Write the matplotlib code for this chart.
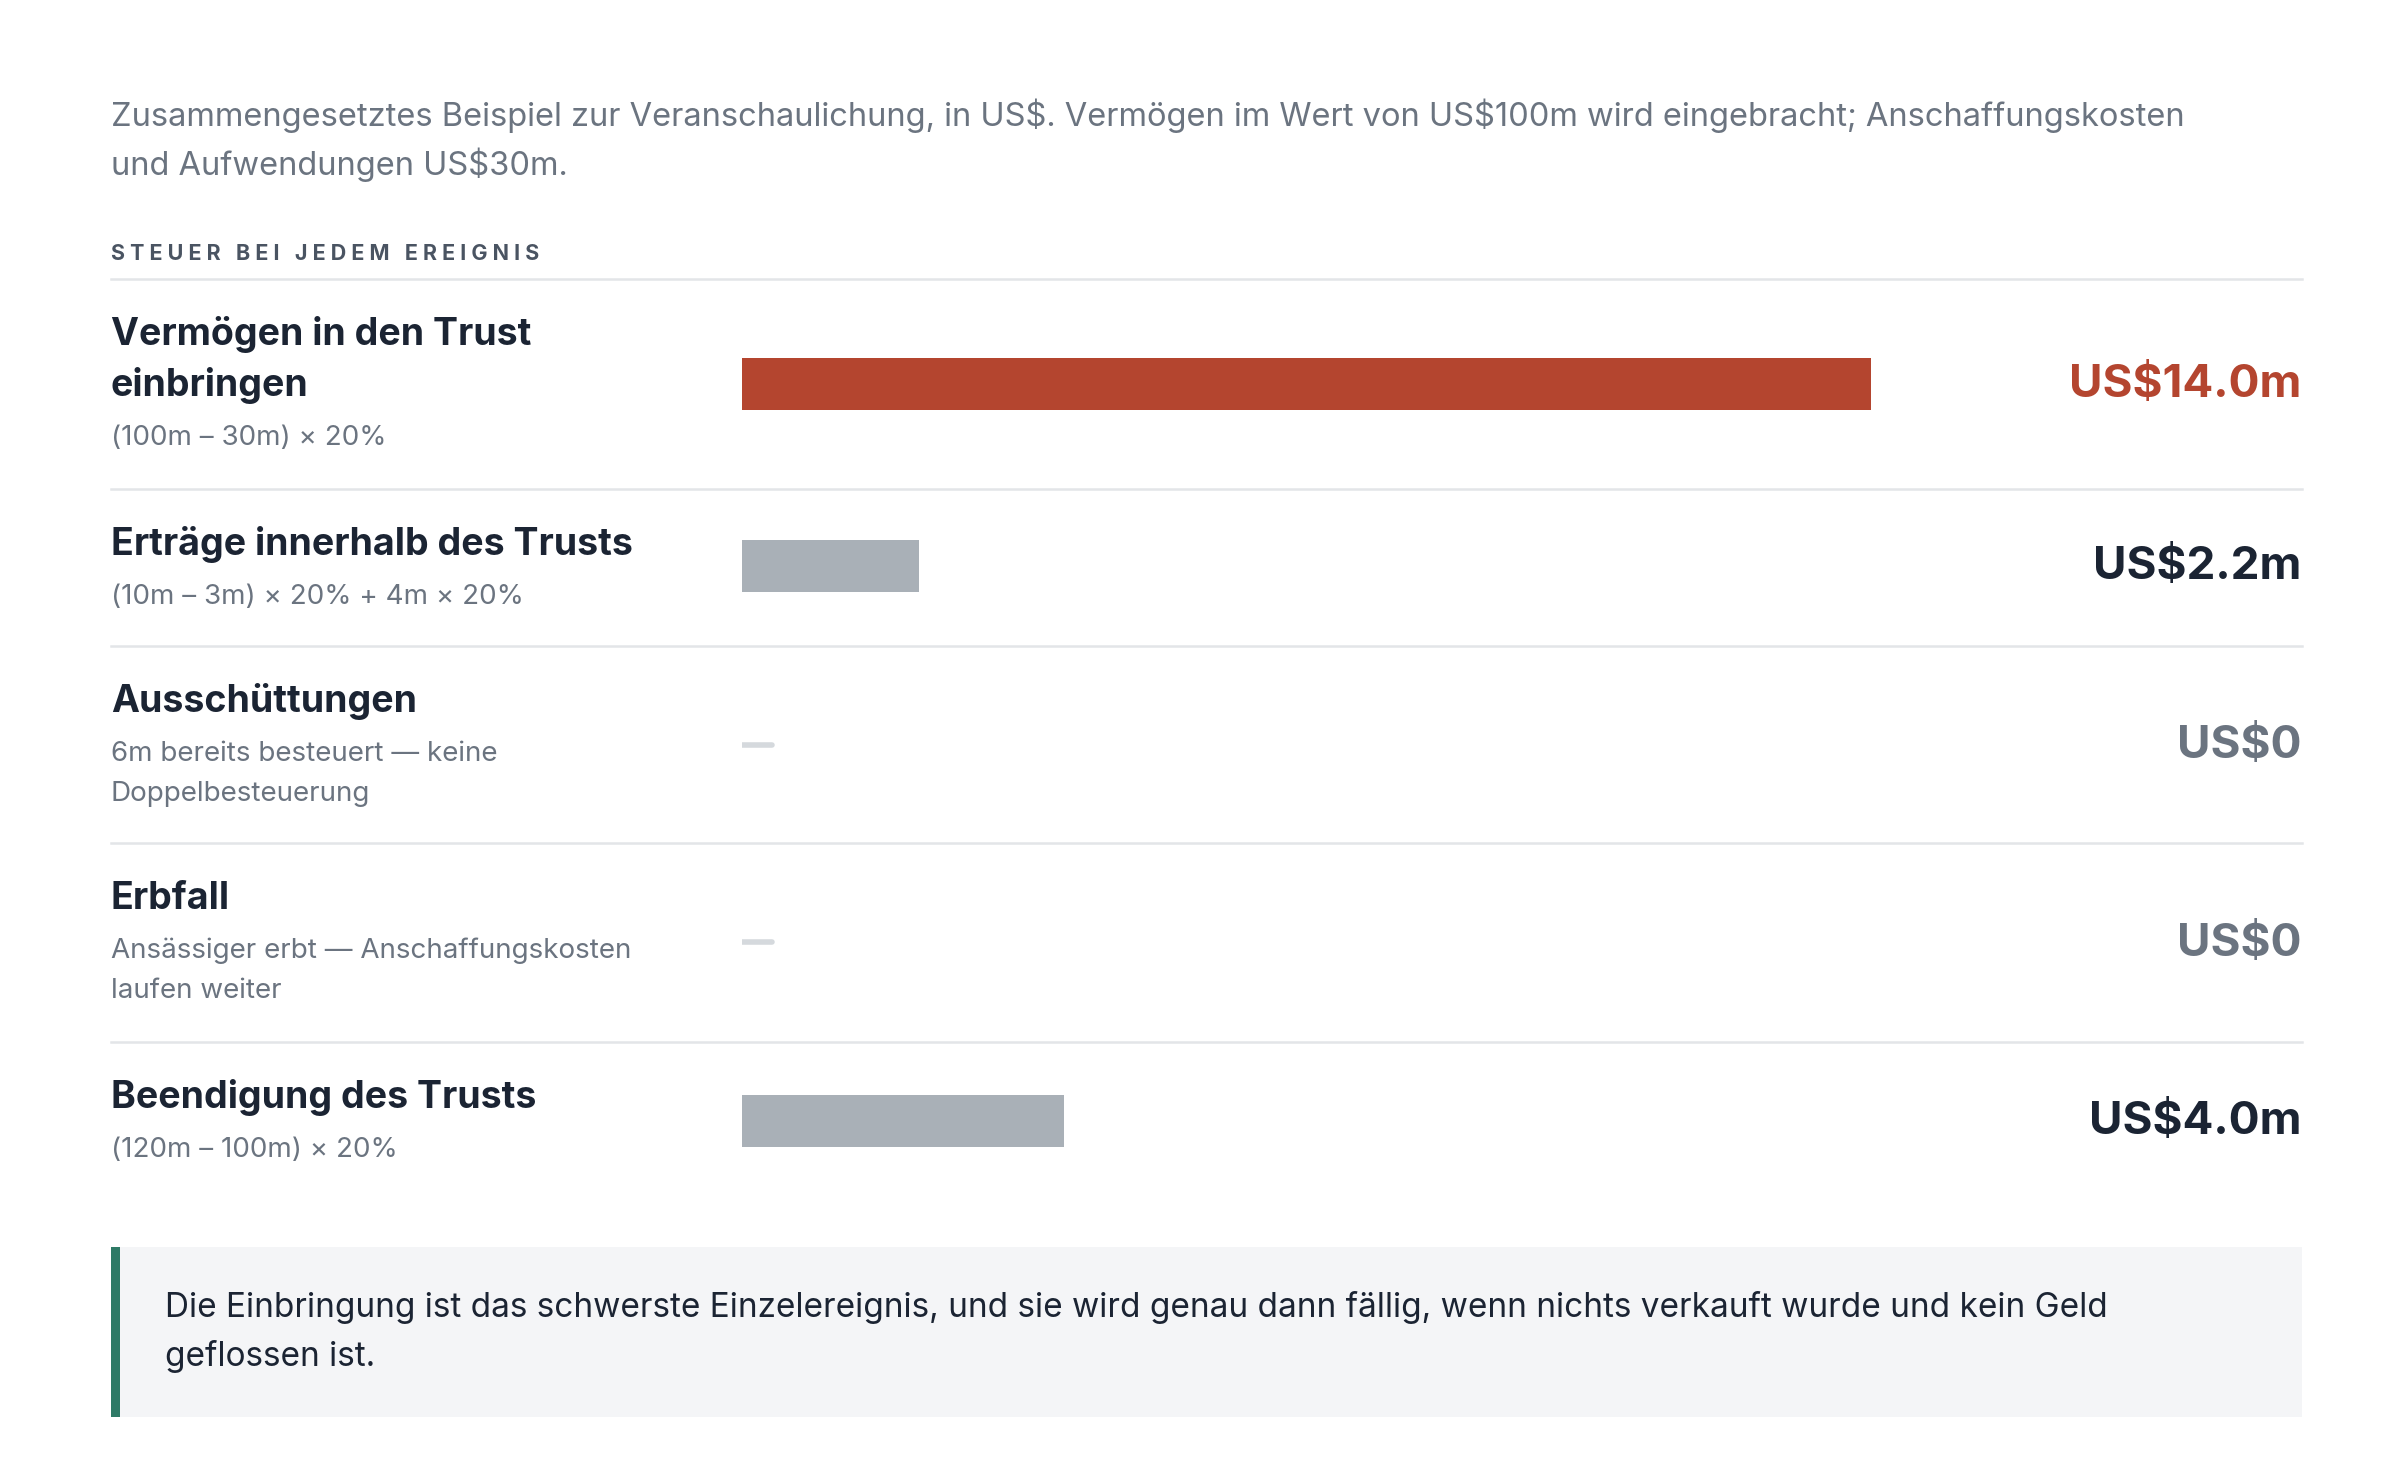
import matplotlib
matplotlib.use('Agg')
import matplotlib.pyplot as plt
from matplotlib.patches import Rectangle

plt.rcParams['font.family'] = ['Inter', 'DejaVu Sans']
plt.rcParams['text.parse_math'] = False

# data
events = ['Vermögen in den Trust\neinbringen', 'Erträge innerhalb des Trusts',
          'Ausschüttungen', 'Erbfall', 'Beendigung des Trusts']
notes = ['(100m – 30m) × 20%', '(10m – 3m) × 20% + 4m × 20%',
         '6m bereits besteuert — keine\nDoppelbesteuerung',
         'Ansässiger erbt — Anschaffungskosten\nlaufen weiter',
         '(120m – 100m) × 20%']
tax = [14.0, 2.2, 0.0, 0.0, 4.0]
tax_labels = ['US$14.0m', 'US$2.2m', 'US$0', 'US$0', 'US$4.0m']

RED = '#B4452F'
GREY_BAR = '#A9B0B7'
DARK = '#1B2433'
MUTED = '#6B7480'
LINE = '#E3E5E8'

W, H = 1560, 960
fig = plt.figure(figsize=(24, 14.8), dpi=100)
ax = fig.add_axes([0, 0, 1, 1])
ax.set_xlim(0, W)
ax.set_ylim(H, 0)
ax.axis('off')

# bar axes: 0 at x=482, 14 at x=1216
bx = fig.add_axes([482 / W, 0, (1216 - 482) / W, 1])
bx.set_xlim(0, 14)
bx.set_ylim(H, 0)
bx.axis('off')

ax.text(72, 75, 'Zusammengesetztes Beispiel zur Veranschaulichung, in US$. Vermögen im Wert von US$100m wird eingebracht; Anschaffungskosten',
        fontsize=23.5, color=MUTED, va='center')
ax.text(72, 107, 'und Aufwendungen US$30m.', fontsize=23.5, color=MUTED, va='center')
ax.text(72, 165, 'S T E U E R   B E I   J E D E M   E R E I G N I S', fontsize=15.5,
        color='#4A5462', fontweight='bold', va='center')

row_y = [249, 367, 483, 611, 727]
label_y = [217, 353, 455, 583, 712]
sep_y = [181, 317, 419, 547, 676]
for y in sep_y:
    ax.plot([72, 1496], [y, y], color=LINE, lw=1.8)

for i in range(len(events)):
    nlab = events[i].count('\n')
    for k, line in enumerate(events[i].split('\n')):
        ax.text(72, label_y[i] + 33 * k, line, fontsize=27, fontweight='bold',
                color=DARK, va='center')
    base = label_y[i] + 33 * (nlab + 1) + 1
    for k, line in enumerate(notes[i].split('\n')):
        ax.text(72, base + 26 * k, line, fontsize=20, color=MUTED, va='center')

    if tax[i] > 0:
        color = RED if i == 0 else GREY_BAR
        bx.barh(row_y[i], tax[i], height=34, color=color, left=0)
    else:
        bx.plot([0, 0.38], [row_y[i], row_y[i]], color='#D5D9DD', lw=4,
                solid_capstyle='round')
    vcol = RED if i == 0 else (MUTED if tax[i] == 0 else DARK)
    ax.text(1496, row_y[i] + 1, tax_labels[i], fontsize=33, fontweight='bold',
            color=vcol, ha='right', va='center')

# callout
ax.add_patch(Rectangle((72, 809), 1424, 110, facecolor='#F4F5F7', edgecolor='none'))
ax.add_patch(Rectangle((72, 809), 6, 110, facecolor='#2E7A66', edgecolor='none'))
ax.text(107, 848, 'Die Einbringung ist das schwerste Einzelereignis, und sie wird genau dann fällig, wenn nichts verkauft wurde und kein Geld',
        fontsize=24, color=DARK, va='center')
ax.text(107, 880, 'geflossen ist.', fontsize=24, color=DARK, va='center')

fig.savefig('out.png', dpi=100, facecolor='white')
